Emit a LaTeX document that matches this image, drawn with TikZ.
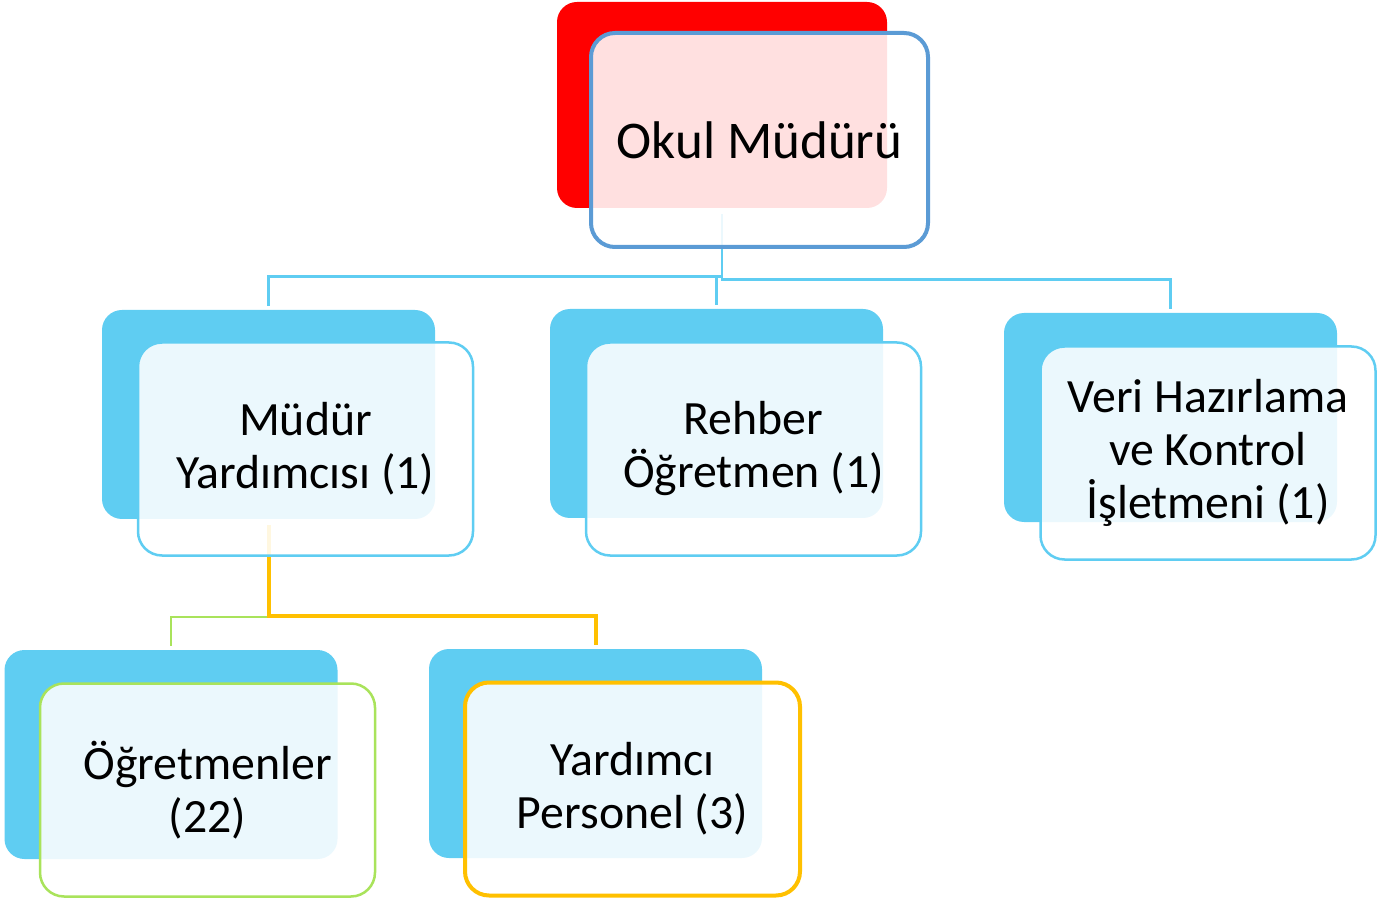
\documentclass[tikz,border=0pt]{standalone}
\usepackage{fontspec}
\setmainfont{Carlito}
\usetikzlibrary{positioning,backgrounds}
\definecolor{skyb}{HTML}{5FCDF2}
\definecolor{steelb}{HTML}{5B9BD5}
\definecolor{limeg}{HTML}{A9E35B}
\definecolor{ambr}{HTML}{FFC000}

\begin{document}
\begin{tikzpicture}[x=0.5pt,y=-0.5pt,on grid,
    back/.style={rectangle,rounded corners=10pt,fill=skyb,inner sep=0pt,
        minimum width=166.5pt,minimum height=104.5pt},
    front/.style={rectangle,rounded corners=12pt,draw=skyb,line width=1.25pt,
        fill=white,fill opacity=0.88,text opacity=1,inner sep=0pt,align=center,
        minimum width=167.5pt,minimum height=106.5pt,
        font=\fontsize{23.9}{26.5}\selectfont},
    link/.style={skyb,line width=1.25pt,shorten <=3pt,shorten >=2pt}]
        \useasboundingbox (0,0) rectangle (1387,903);

        % top
        \node[back,fill=red,minimum width=165pt,minimum height=103pt] (okul_b) at (722,105) {};
        \node[front,draw=steelb,line width=2pt,minimum width=168.5pt,minimum height=107pt,
              font=\fontsize{26.5}{32}\selectfont]
              (okul) [below right=17.5pt and 18.75pt of okul_b] {Okul Müdürü};

        % second row
        \node[back] (mudyrd_b) at (268.5,414.5) {};
        \node[front] (mudyrd) [below right=17.25pt and 18.5pt of mudyrd_b] {Müdür\\Yardımcısı (1)};
        \node[back] (rehber_b) at (716.5,413.5) {};
        \node[front] (rehber) [below right=17.75pt and 18.5pt of rehber_b] {Rehber\\Öğretmen (1)};
        \node[back] (veri_b) at (1170.5,417.5) {};
        \node[front] (veri) [below right=17.75pt and 18.75pt of veri_b] {Veri Hazırlama\\ve Kontrol\\İşletmeni (1)};

        % third row
        \node[back] (ogret_b) at (171,754.5) {};
        \node[front,draw=limeg] (ogret) [below right=17.75pt and 18.25pt of ogret_b] {Öğretmenler\\(22)};
        \node[back] (yrdp_b) at (595.5,753.5) {};
        \node[front,draw=ambr,line width=2pt] (yrdp) [below right=17.75pt and 18.5pt of yrdp_b] {Yardımcı\\Personel (3)};

        \begin{scope}[on background layer]
        \draw[link] (okul_b.south) -- ++(0,68) -| (mudyrd_b.north);
        \draw[link] (okul_b.south) -- ++(0,68) -| (rehber_b.north);
        \draw[link] (okul_b.south) -- ++(0,71) -| (veri_b.north);
        \draw[link,limeg,line width=1pt] (mudyrd_b.south) -- ++(0,98) -| (ogret_b.north);
        \draw[link,ambr,line width=2pt] (mudyrd_b.south) -- ++(0,97) -| (yrdp_b.north);
        \end{scope}
    \end{tikzpicture}
\end{document}
